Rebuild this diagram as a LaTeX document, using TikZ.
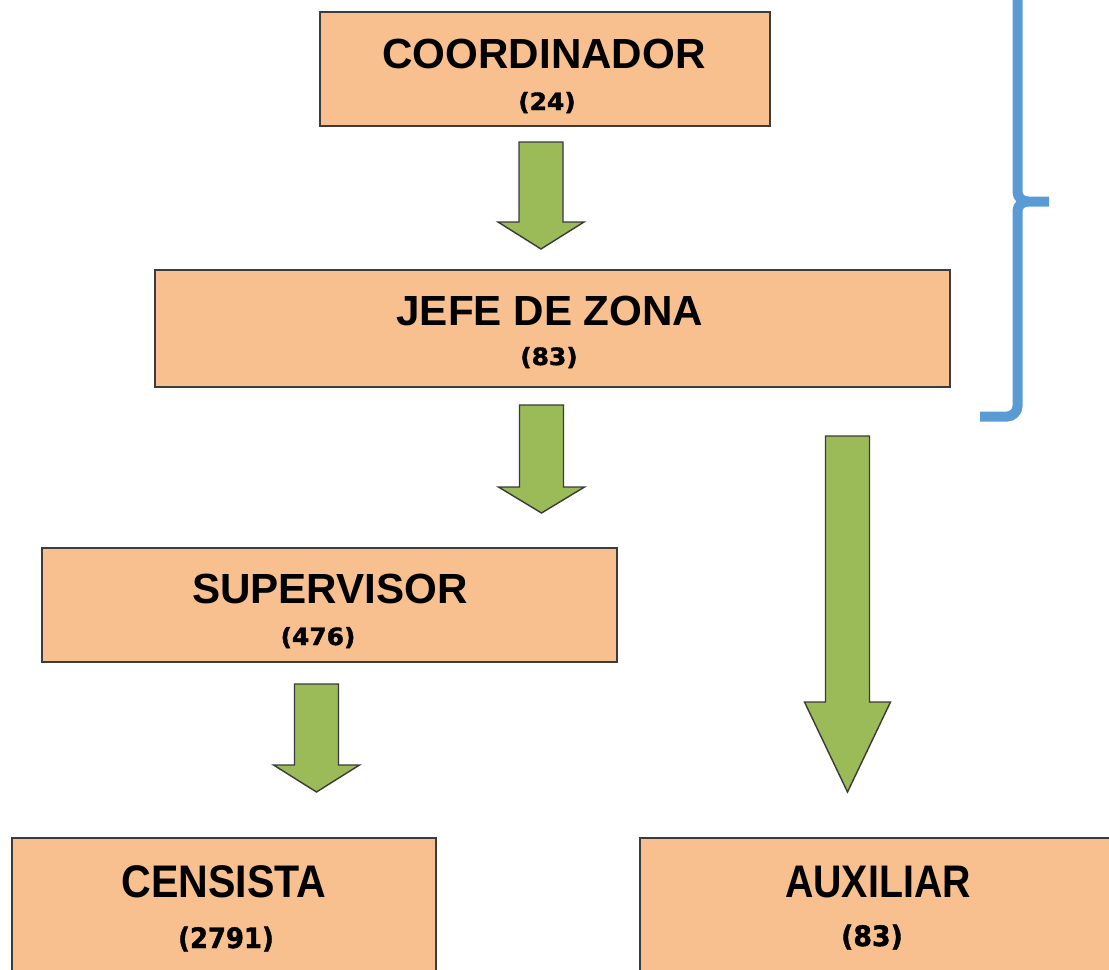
\documentclass[tikz,border=0pt]{standalone}
\usepackage{fontspec}
\setmainfont{Liberation Sans}
\newfontfamily\numfont[FakeBold=1.5]{DejaVu Sans Bold}
\usetikzlibrary{positioning}

\definecolor{boxfill}{HTML}{F8BF8F}
\definecolor{boxline}{HTML}{3C3C3C}
\definecolor{arrowgreen}{HTML}{9BBB59}
\definecolor{arrowline}{HTML}{3A3A3A}
\definecolor{braceblue}{HTML}{5B9BD5}

\tikzset{
  box/.style = { draw = boxline, fill = boxfill, line width = 1.1pt, inner sep = 0pt, outer sep = 0pt },
  rolename/.style = { anchor = base, inner sep = 0pt, font = \bfseries\fontsize{24}{28}\selectfont },
  bigrolename/.style = { anchor = base, inner sep = 0pt, font = \bfseries\fontsize{26}{30}\selectfont },
  rolecount/.style = { anchor = base, inner sep = 0pt, font = \numfont\fontsize{13.5}{16}\selectfont },
  bigrolecount/.style = { anchor = base, inner sep = 0pt, font = \numfont\fontsize{16}{19}\selectfont },
  arrowfill/.style = { fill = arrowgreen, draw = arrowline, line width = 0.8pt, line join = miter },
  brace/.style = { draw = braceblue, line width = 0.2cm }
}

% green block arrow: top point, neck, length
\newcommand{\blockarrow}[3]{%
  \draw[arrowfill, shift = {(#1)}] (-22,0) -- (22,0) -- (22,#2) -- (43,#2)
    -- (0,#3) -- (-43,#2) -- (-22,#2) -- cycle;}

\begin{document}
\begin{tikzpicture}[x = 0.02cm, y = -0.02cm]
  \useasboundingbox (0,0) rectangle (1109,970);
  \clip (0,0) rectangle (1109,970);

  % boxes
  \node[box, minimum width = 9cm, minimum height = 2.28cm] (coord) at (545,69) {};
  \node[box, minimum width = 15.9cm, minimum height = 2.34cm] (jefe) at (552.5,328.5) {};
  \node[box, minimum width = 11.5cm, minimum height = 2.28cm] (sup) at (329.5,605) {};
  \node[box, minimum width = 8.48cm, minimum height = 3cm] (cen) at (224,913) {};
  \node[box, minimum width = 9.6cm, minimum height = 3cm] (aux) at (880,913) {};

  % texts
  \node[rolename] (coordt) at (544,68) {COORDINADOR};
  \node[rolecount] (coordn) at (547,110) {\scalebox{1.05}[1]{(24)}};
  \node[rolename] (jefet) at (550,325) {JEFE DE ZONA};
  \node[rolecount] (jefen) at (549,365) {\scalebox{1.05}[1]{(83)}};
  \node[rolename] (supt) at (330,603) {SUPERVISOR};
  \node[rolecount] (supn) at (318,645) {\scalebox{1.05}[1]{(476)}};
  \node[bigrolename] (cent) at (224,897) {\scalebox{0.9}[1]{CENSISTA}};
  \node[bigrolecount] (cenn) at (226,948) {\scalebox{0.92}[1]{(2791)}};
  \node[bigrolename] (auxt) at (878,897) {\scalebox{0.86}[1]{AUXILIAR}};
  \node[bigrolecount] (auxn) at (872,946) {\scalebox{0.95}[1]{(83)}};

  % arrows
  \coordinate (a1) at (541,142);
  \coordinate (a2) at (541.5,405);
  \coordinate (a3) at (847.5,436);
  \coordinate (a4) at (316.5,684);
  \blockarrow{a1}{80}{107}
  \blockarrow{a2}{82}{108}
  \blockarrow{a3}{266}{356}
  \blockarrow{a4}{81}{108}

  % brace
  \draw[brace] (1017.5,-10) -- (1017.5,192) to[out = -90, in = 180] (1028,201.5) -- (1049,201.5)
    (1049,201.5) -- (1028,201.5) to[out = 180, in = 90] (1017.5,211) -- (1017.5,406)
    to[out = -90, in = 0] (1007,416.5) -- (980,416.5);
\end{tikzpicture}
\end{document}
